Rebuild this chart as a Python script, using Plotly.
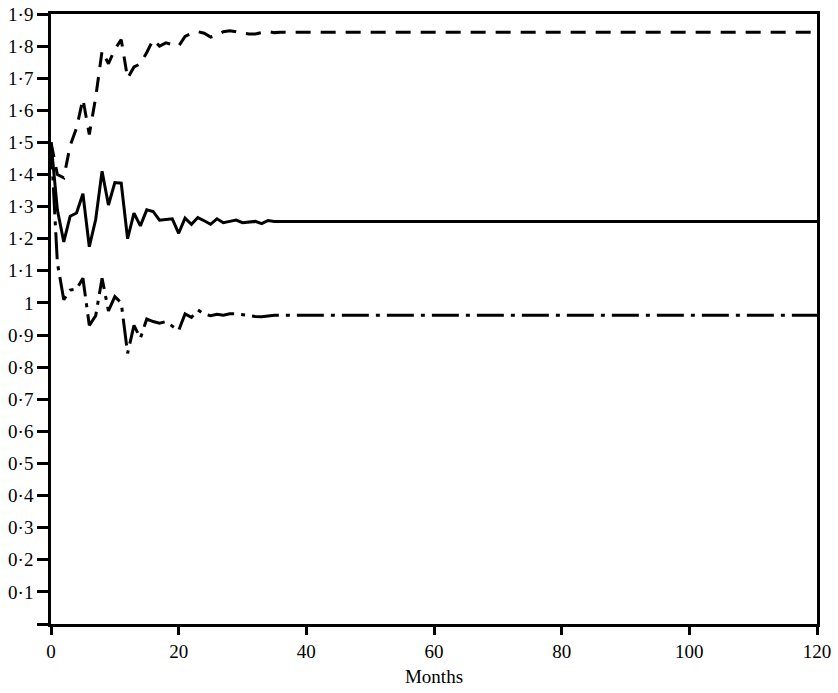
# coding: utf-8

#        bibliotecas
# -----------------------------
import plotly.graph_objects as plt
# -----------------------------

# meses (0..36, depois constante até 120)
meses = list(range(0, 37)) + [120]

# curva tracejada (superior)
serie_tracejada = [1.50, 1.40, 1.39, 1.49, 1.545, 1.635, 1.525, 1.64, 1.785, 1.745,
                   1.79, 1.82, 1.70, 1.735, 1.745, 1.78, 1.82, 1.80, 1.81, 1.805,
                   1.80, 1.83, 1.84, 1.845, 1.84, 1.828, 1.835, 1.845, 1.848, 1.845,
                   1.84, 1.838, 1.838, 1.842, 1.845, 1.842, 1.843, 1.843]

# curva contínua (meio)
serie_continua = [1.50, 1.29, 1.19, 1.27, 1.28, 1.34, 1.175, 1.26, 1.41, 1.305,
                  1.375, 1.373, 1.20, 1.28, 1.24, 1.29, 1.285, 1.258, 1.26, 1.262,
                  1.217, 1.264, 1.245, 1.266, 1.256, 1.245, 1.262, 1.25, 1.254, 1.258,
                  1.25, 1.252, 1.254, 1.247, 1.257, 1.254, 1.254, 1.254]

# curva traço-ponto (inferior)
serie_traco_ponto = [1.50, 1.125, 1.01, 1.04, 1.043, 1.077, 0.93, 0.96, 1.077, 0.975,
                     1.02, 1.0, 0.843, 0.93, 0.89, 0.95, 0.942, 0.937, 0.942, 0.927,
                     0.914, 0.966, 0.955, 0.978, 0.965, 0.96, 0.965, 0.962, 0.966, 0.966,
                     0.963, 0.96, 0.958, 0.957, 0.96, 0.962, 0.962, 0.962]

# ticks dos eixos
y_ticks = [0.0, 0.1, 0.2, 0.3, 0.4, 0.5, 0.6, 0.7, 0.8, 0.9, 1.0,
           1.1, 1.2, 1.3, 1.4, 1.5, 1.6, 1.7, 1.8, 1.9]
y_labels = ['', '0·1', '0·2', '0·3', '0·4', '0·5', '0·6', '0·7', '0·8', '0·9', '1',
            '1·1', '1·2', '1·3', '1·4', '1·5', '1·6', '1·7', '1·8', '1·9']
x_ticks = [0, 20, 40, 60, 80, 100, 120]

fonte = dict(family='Liberation Serif', size=19, color='black')

fig = plt.Figure()

fig.add_trace(plt.Scatter(
    x=meses, y=serie_tracejada, mode='lines',
    line=dict(color='black', width=3, dash='15px,10px')))

fig.add_trace(plt.Scatter(
    x=meses, y=serie_continua, mode='lines',
    line=dict(color='black', width=3)))

fig.add_trace(plt.Scatter(
    x=meses, y=serie_traco_ponto, mode='lines',
    line=dict(color='black', width=3, dash='27px,7px,4px,7px')))

fig.update_layout(
    width=838, height=693,
    margin=dict(l=51, r=21, t=14, b=69, autoexpand=False),
    paper_bgcolor='rgb(255, 255, 255)', plot_bgcolor='rgb(255, 255, 255)',
    font=fonte,
    showlegend=False)

fig.update_xaxes(
    range=[0, 120], tickvals=x_ticks, automargin=False,
    showgrid=False, zeroline=False,
    showline=True, linecolor='black', linewidth=2.5, mirror=True,
    ticks='outside', ticklen=8, tickwidth=2.5, tickcolor='black',
    tickfont=fonte,
    title=dict(text='Months', font=fonte, standoff=10))

fig.update_yaxes(
    range=[0, 1.9], tickvals=y_ticks, ticktext=y_labels, automargin=False,
    showgrid=False, zeroline=False,
    showline=True, linecolor='black', linewidth=2.5, mirror=True,
    ticks='outside', ticklen=11, tickwidth=2.5, tickcolor='black',
    tickfont=fonte)

# tira a margem padrão da página para a figura ocupar a janela toda
fig.write_html("out.html", config={'displayModeBar': False},
               post_script="document.body.style.margin = '0';")
